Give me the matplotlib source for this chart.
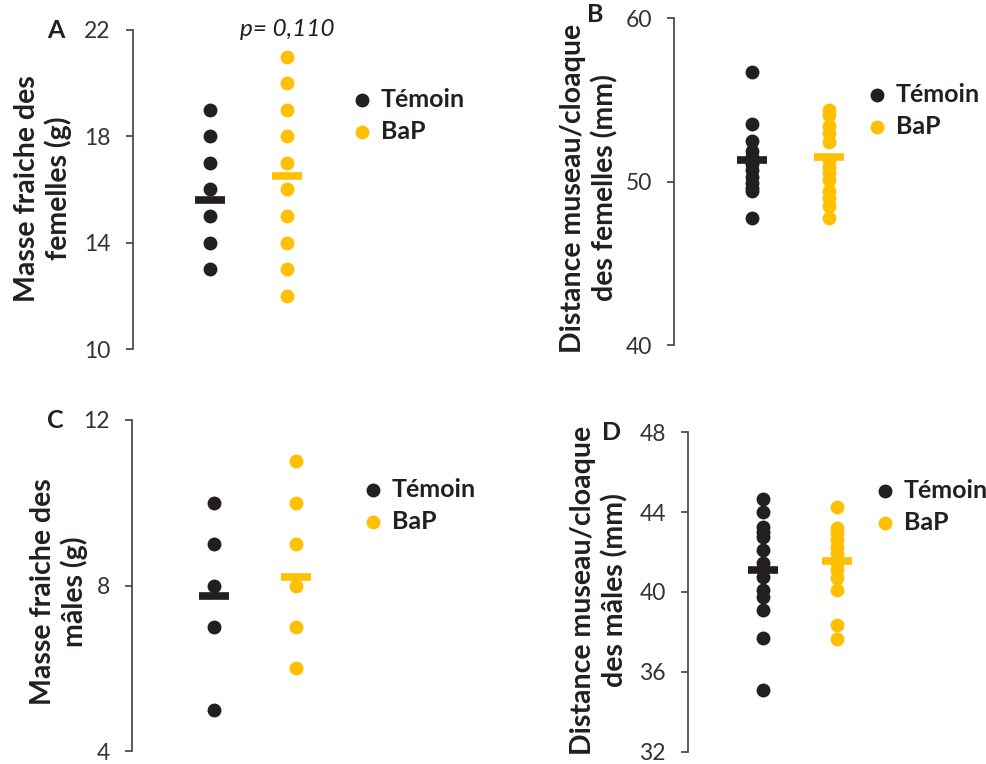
import matplotlib.pyplot as plt
import numpy as np

plt.rcParams['font.family'] = ['Lato', 'DejaVu Sans']

NOIR = '#231f20'
JAUNE = '#FFC000'
W, H = 986, 764

groupes = ['Témoin', 'BaP']

# A : masse fraiche des femelles (g)
a_temoin = [19, 18, 17, 16, 15, 14, 13]
a_bap = [21, 20, 19, 18, 17, 16, 15, 14, 13, 12]
a_moy = [15.6, 16.5]

# B : distance museau/cloaque des femelles (mm)
b_temoin = [56.7, 53.5, 52.5, 51.9, 51.5, 51.1, 50.7, 50.3, 49.9, 49.6, 49.4, 47.8]
b_bap = [54.4, 54.1, 53.4, 53.0, 52.4, 51.3, 50.9, 50.5, 50.1, 49.4, 49.0, 48.5, 47.8]
b_moy = [51.3, 51.5]

# C : masse fraiche des males (g)
c_temoin = [10, 9, 8, 7, 5]
c_bap = [11, 10, 9, 8, 7, 6]
c_moy = [7.75, 8.2]

# D : distance museau/cloaque des males (mm)
d_temoin = [44.64, 44.02, 43.27, 43.02, 42.77, 42.1, 41.44, 40.77, 40.1, 39.76, 39.1, 37.68, 35.09]
d_bap = [44.24, 43.19, 42.94, 42.6, 42.27, 41.94, 41.44, 41.1, 40.69, 40.1, 38.35, 37.63]
d_moy = [41.1, 41.57]

fig = plt.figure(figsize=(W / 100, H / 100), dpi=100)


def panneau(left, top, bottom, d, lettre, lx, ly, temoin, bap, moy, ylim, yticks, ylabel, lab_xy, leg_xy):
    ax = fig.add_axes([left / W, 1 - bottom / H, 3 * d / W, (bottom - top) / H])
    ax.scatter(np.full(len(temoin), 1), temoin, s=100, color=NOIR, zorder=3, label=groupes[0], linewidths=0)
    ax.scatter(np.full(len(bap), 2), bap, s=100, color=JAUNE, zorder=3, label=groupes[1], linewidths=0)
    ax.plot([1], [moy[0]], marker='_', markersize=21, markeredgewidth=5.5, color=NOIR, zorder=4)
    ax.plot([2], [moy[1]], marker='_', markersize=21, markeredgewidth=5.5, color=JAUNE, zorder=4)
    ax.set_xlim(0, 3)
    ax.set_ylim(*ylim)
    ax.set_yticks(yticks)
    ax.set_xticks([])
    for s in ['top', 'right', 'bottom']:
        ax.spines[s].set_visible(False)
    ax.spines['left'].set_color('#404040')
    ax.spines['left'].set_linewidth(1.2)
    ax.tick_params(axis='y', direction='out', length=5, width=1.2, color='#404040',
                   labelsize=16.5, labelcolor='#333333', pad=11)
    ax.set_ylabel(ylabel, fontsize=20.5, fontweight='bold', color='#231f20', linespacing=1.2)
    # lab_xy : bord droit du titre et centre vertical, en pixels
    ax.yaxis.set_label_coords((lab_xy[0] - left) / (3 * d), 1 - (lab_xy[1] - top) / (bottom - top))
    fig.text(lx / W, 1 - ly / H, lettre, fontsize=18, fontweight='bold', color='#231f20',
             ha='center', va='center')
    # legende : leg_xy = centre du premier point
    ax.legend(loc='upper left', bbox_to_anchor=((leg_xy[0] - 10) / W, 1 - (leg_xy[1] - 10) / H),
              bbox_transform=fig.transFigure, frameon=False,
              prop={'weight': 'bold', 'size': 18}, handlelength=0.8, handletextpad=0.35,
              labelspacing=0.36, borderpad=0, borderaxespad=0, scatterpoints=1, markerscale=1)
    for t in ax.get_legend().get_texts():
        t.set_color('#231f20')
    return ax


ax_a = panneau(133, 30, 349, 77, 'A', 56, 30, a_temoin, a_bap, a_moy, (10, 22), [10, 14, 18, 22],
               'Masse fraiche des\nfemelles (g)', (72, 188.5), (362, 98))
ax_a.text(2, 22, 'p= 0,110', fontsize=17.5, style='italic', color='#231f20', ha='center', va='center')

panneau(674, 18.3, 345, 77.5, 'B', 595, 15, b_temoin, b_bap, b_moy, (40, 60), [40, 50, 60],
        'Distance museau/cloaque\ndes femelles (mm)', (618, 188), (877, 93))

panneau(132, 420, 751, 82, 'C', 55, 420, c_temoin, c_bap, c_moy, (4, 12), [4, 8, 12],
        'Masse fraiche des\nmâles (g)', (88, 592), (373, 488))

panneau(688, 432.3, 751.7, 74.5, 'D', 612, 433, d_temoin, d_bap, d_moy, (32, 48), [32, 36, 40, 44, 48],
        'Distance museau/cloaque\ndes mâles (mm)', (628, 590), (885, 489))

fig.savefig('out.png', dpi=100)
